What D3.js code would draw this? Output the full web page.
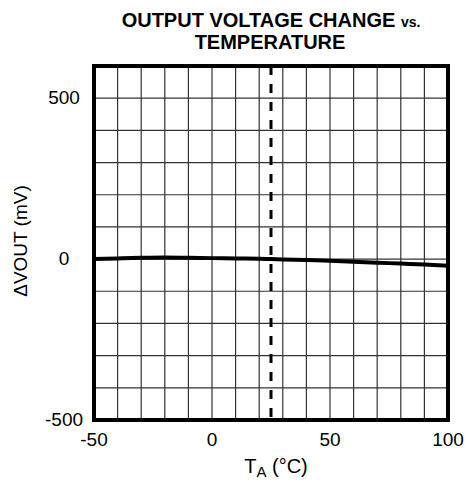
<!DOCTYPE html>
<html>
<head>
<meta charset="utf-8">
<script src="https://cdn.jsdelivr.net/npm/d3@7"></script>
<style>
body { margin: 0; background: #fff; }
text { font-family: "Liberation Sans", Arial, sans-serif; fill: #000; }
</style>
</head>
<body>
<div id="chart"></div>
<script>
// temperature (°C) vs output voltage change (mV)
const temps = [-50, -40, -30, -20, -10, 0, 10, 20, 25, 30, 40, 50, 60, 70, 80, 90, 100];
const dvout = [0, 2, 4, 5, 4, 3, 2, 1, 0, -1, -3, -5, -8, -11, -14, -17, -21];
const xTicks = [-50, 0, 50, 100];
const yTicks = [-500, 0, 500];
const refTemp = 25;

const W = 467, H = 483;
const plot = { left: 94, top: 66, right: 448, bottom: 420 };

const svg = d3.select("#chart").append("svg")
	.attr("width", W).attr("height", H);

const x = d3.scaleLinear().domain([-50, 100]).range([plot.left, plot.right]);
const y = d3.scaleLinear().domain([-500, 600]).range([plot.bottom, plot.top]);

// grid
svg.append("g").selectAll("line").data(d3.range(-40, 100, 10)).enter().append("line")
	.attr("x1", d => x(d)).attr("x2", d => x(d))
	.attr("y1", plot.top).attr("y2", plot.bottom)
	.attr("stroke", "#333").attr("stroke-width", 1.2);
svg.append("g").selectAll("line").data(d3.range(-400, 600, 100)).enter().append("line")
	.attr("y1", d => y(d)).attr("y2", d => y(d))
	.attr("x1", plot.left).attr("x2", plot.right)
	.attr("stroke", "#333").attr("stroke-width", 1.2);

// reference temperature marker
svg.append("line")
	.attr("x1", x(refTemp)).attr("x2", x(refTemp))
	.attr("y1", plot.top).attr("y2", plot.bottom)
	.attr("stroke", "#000").attr("stroke-width", 3)
	.attr("stroke-dasharray", "9,9");

// curve
const line = d3.line().x((d, i) => x(temps[i])).y(d => y(d)).curve(d3.curveMonotoneX);
svg.append("path").datum(dvout)
	.attr("d", line)
	.attr("fill", "none").attr("stroke", "#000").attr("stroke-width", 4);

// frame
svg.append("rect")
	.attr("x", plot.left).attr("y", plot.top)
	.attr("width", plot.right - plot.left).attr("height", plot.bottom - plot.top)
	.attr("fill", "none").attr("stroke", "#000").attr("stroke-width", 4);

// tick labels
svg.append("g").selectAll("text").data(xTicks).enter().append("text")
	.attr("x", d => x(d)).attr("y", 446)
	.attr("text-anchor", "middle").attr("font-size", 19)
	.text(d => d);
svg.append("g").selectAll("text").data(yTicks).enter().append("text")
	.attr("x", 64).attr("y", d => y(d) + 6)
	.attr("text-anchor", "middle").attr("font-size", 19)
	.text(d => d);

// title
const title = svg.append("text").attr("x", 271).attr("y", 27)
	.attr("text-anchor", "middle").attr("font-size", 20).attr("font-weight", "bold");
title.append("tspan").text("OUTPUT VOLTAGE CHANGE ");
title.append("tspan").attr("font-size", 14).text("vs.");
svg.append("text").attr("x", 270).attr("y", 49)
	.attr("text-anchor", "middle").attr("font-size", 20).attr("font-weight", "bold")
	.text("TEMPERATURE");

// axis titles
const xt = svg.append("text").attr("x", 276).attr("y", 473)
	.attr("text-anchor", "middle").attr("font-size", 20);
xt.append("tspan").text("T");
xt.append("tspan").attr("font-size", 15).attr("dy", 4).text("A");
xt.append("tspan").attr("dy", -4).text(" (°C)");

svg.append("text")
	.attr("transform", "translate(27,241) rotate(-90)")
	.attr("text-anchor", "middle").attr("font-size", 19)
	.text("ΔVOUT (mV)");
</script>
</body>
</html>
